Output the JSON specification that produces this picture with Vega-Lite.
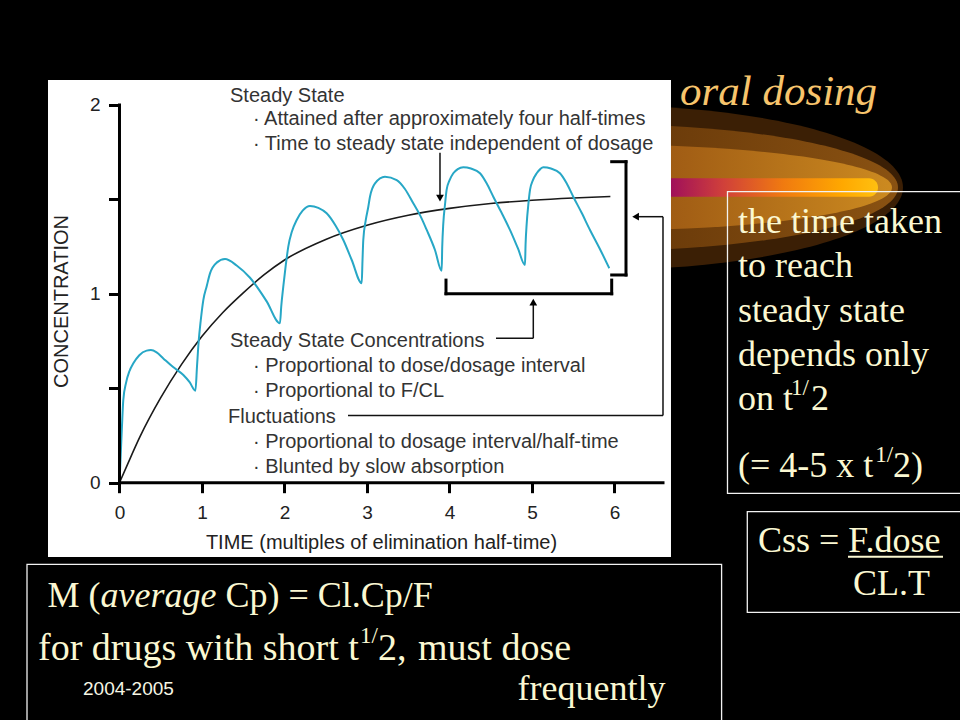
{
  "$schema": "https://vega.github.io/schema/vega-lite/v6.json",
  "width": 960,
  "height": 720,
  "autosize": {"type": "none"},
  "padding": 0,
  "background": "#000000",
  "config": {"view": {"stroke": null}, "font": "Liberation Sans"},
  "resolve": {"axis": {"x": "independent", "y": "independent"}},
  "datasets": {
    "ellipse": [{"t": 5.8242, "c": 1.5627}],
    "stripe": [{"t": 6.3091, "t2": 9.1939, "c": 1.6114, "c2": 1.5141}],
    "panel": [{"t": -0.8667, "t2": 6.6848, "c": 2.1318, "c2": -0.3933}],
    "boxes": [
      {"t": 7.3697, "t2": 10.3, "c": 1.5408, "c2": -0.0566},
      {"t": 7.6097, "t2": 10.3, "c": -0.1535, "c2": -0.6861},
      {"t": -1.1212, "t2": 7.2982, "c": -0.432, "c2": -1.3}
    ],
    "conc": [
      {"t": 0, "c": 0}, {"t": 0.015, "c": 0.15}, {"t": 0.03, "c": 0.3}, {"t": 0.046, "c": 0.438}, {"t": 0.08, "c": 0.53}, {"t": 0.12, "c": 0.59}, {"t": 0.168, "c": 0.632}, {"t": 0.24, "c": 0.675}, {"t": 0.329, "c": 0.699}, {"t": 0.38, "c": 0.702}, {"t": 0.45, "c": 0.69}, {"t": 0.531, "c": 0.658}, {"t": 0.65, "c": 0.612}, {"t": 0.774, "c": 0.57}, {"t": 0.85, "c": 0.532}, {"t": 0.92, "c": 0.487},
      {"t": 0.94, "c": 0.62}, {"t": 0.96, "c": 0.75}, {"t": 0.985, "c": 0.86}, {"t": 1.016, "c": 0.967}, {"t": 1.057, "c": 1.04}, {"t": 1.097, "c": 1.108}, {"t": 1.178, "c": 1.165}, {"t": 1.279, "c": 1.184}, {"t": 1.42, "c": 1.15}, {"t": 1.582, "c": 1.085}, {"t": 1.784, "c": 0.96}, {"t": 1.945, "c": 0.844},
      {"t": 1.96, "c": 0.93}, {"t": 1.985, "c": 1.037}, {"t": 2.015, "c": 1.15}, {"t": 2.046, "c": 1.25}, {"t": 2.09, "c": 1.33}, {"t": 2.148, "c": 1.391}, {"t": 2.22, "c": 1.44}, {"t": 2.309, "c": 1.465}, {"t": 2.41, "c": 1.455}, {"t": 2.511, "c": 1.426}, {"t": 2.62, "c": 1.36}, {"t": 2.713, "c": 1.285}, {"t": 2.815, "c": 1.179}, {"t": 2.936, "c": 1.056},
      {"t": 2.945, "c": 1.17}, {"t": 2.955, "c": 1.285}, {"t": 2.985, "c": 1.39}, {"t": 3.016, "c": 1.461}, {"t": 3.036, "c": 1.514}, {"t": 3.097, "c": 1.585}, {"t": 3.218, "c": 1.62}, {"t": 3.36, "c": 1.602}, {"t": 3.46, "c": 1.555}, {"t": 3.561, "c": 1.479}, {"t": 3.65, "c": 1.41}, {"t": 3.724, "c": 1.338}, {"t": 3.824, "c": 1.232}, {"t": 3.905, "c": 1.122},
      {"t": 3.912, "c": 1.25}, {"t": 3.925, "c": 1.373}, {"t": 3.945, "c": 1.47}, {"t": 3.965, "c": 1.55}, {"t": 4.0, "c": 1.6}, {"t": 4.046, "c": 1.638}, {"t": 4.1, "c": 1.66}, {"t": 4.167, "c": 1.67}, {"t": 4.26, "c": 1.663}, {"t": 4.37, "c": 1.638}, {"t": 4.45, "c": 1.585}, {"t": 4.531, "c": 1.514}, {"t": 4.63, "c": 1.43}, {"t": 4.733, "c": 1.338}, {"t": 4.83, "c": 1.24}, {"t": 4.915, "c": 1.152},
      {"t": 4.922, "c": 1.26}, {"t": 4.936, "c": 1.373}, {"t": 4.955, "c": 1.47}, {"t": 4.976, "c": 1.55}, {"t": 5.01, "c": 1.6}, {"t": 5.057, "c": 1.638}, {"t": 5.1, "c": 1.66}, {"t": 5.137, "c": 1.67}, {"t": 5.23, "c": 1.663}, {"t": 5.339, "c": 1.638}, {"t": 5.42, "c": 1.585}, {"t": 5.5, "c": 1.514}, {"t": 5.6, "c": 1.43}, {"t": 5.703, "c": 1.338}, {"t": 5.82, "c": 1.24}, {"t": 5.937, "c": 1.135}
    ],
    "mean": [
      {"t": 0, "c": 0}, {"t": 0.1, "c": 0.1}, {"t": 0.25, "c": 0.245}, {"t": 0.5, "c": 0.45}, {"t": 0.75, "c": 0.625}, {"t": 1, "c": 0.775}, {"t": 1.25, "c": 0.9}, {"t": 1.5, "c": 1.005}, {"t": 1.75, "c": 1.1}, {"t": 2, "c": 1.179}, {"t": 2.5, "c": 1.288}, {"t": 3, "c": 1.363}, {"t": 3.5, "c": 1.416}, {"t": 4, "c": 1.452}, {"t": 4.5, "c": 1.478}, {"t": 5, "c": 1.495}, {"t": 5.5, "c": 1.507}, {"t": 5.95, "c": 1.515}
    ],
    "thick": [
      {"t": 6.1394, "t2": 6.1394, "c": 1.6993, "c2": 1.0996},
      {"t": 5.9661, "t2": 6.1394, "c": 1.6993, "c2": 1.6993},
      {"t": 5.9661, "t2": 6.1394, "c": 1.0996, "c2": 1.0996},
      {"t": 3.9576, "t2": 5.9661, "c": 1.0004, "c2": 1.0004},
      {"t": 3.9576, "t2": 3.9576, "c": 1.0004, "c2": 1.0725},
      {"t": 5.9661, "t2": 5.9661, "c": 1.0004, "c2": 1.0725},
      {"t": 0, "t2": 0, "c": 0, "c2": 2},
      {"t": 0, "t2": 6.5879, "c": 0, "c2": 0}
    ],
    "thin": [
      {"t": 2.7697, "t2": 6.5879, "c": 0.3557, "c2": 0.3557},
      {"t": 6.5879, "t2": 6.5879, "c": 0.3557, "c2": 1.4082},
      {"t": 6.2606, "t2": 6.5879, "c": 1.4082, "c2": 1.4082},
      {"t": 4.5636, "t2": 5.0158, "c": 0.7644, "c2": 0.7644},
      {"t": 5.0158, "t2": 5.0158, "c": 0.7644, "c2": 0.9577},
      {"t": 3.8848, "t2": 3.8848, "c": 1.7469, "c2": 1.5077}
    ],
    "arrows": [
      {"t": 3.8848, "c": 1.5066, "dir": "down"},
      {"t": 6.2558, "c": 1.4082, "dir": "left"},
      {"t": 5.0158, "c": 0.9555, "dir": "up"}
    ],
    "notes": [
      {"t": 1.3394, "c": 2.0169, "label": "Steady State"},
      {"t": 1.6182, "c": 1.8936, "label": "· Attained after approximately four half-times"},
      {"t": 1.6182, "c": 1.7613, "label": "· Time to steady state independent of dosage"},
      {"t": 1.3394, "c": 0.72, "label": "Steady State Concentrations"},
      {"t": 1.6182, "c": 0.5876, "label": "· Proportional to dose/dosage interval"},
      {"t": 1.6182, "c": 0.4553, "label": "· Proportional to F/CL"},
      {"t": 1.3152, "c": 0.3145, "label": "Fluctuations"},
      {"t": 1.6182, "c": 0.1821, "label": "· Proportional to dosage interval/half-time"},
      {"t": 1.6182, "c": 0.0498, "label": "· Blunted by slow absorption"}
    ],
    "serif36": [
      {"t": 7.497, "c": 1.3219, "label": "the time taken"},
      {"t": 7.497, "c": 1.0863, "label": "to reach"},
      {"t": 7.497, "c": 0.8507, "label": "steady state"},
      {"t": 7.497, "c": 0.6178, "label": "depends only"},
      {"t": 7.497, "c": 0.3849, "label": "on t"},
      {"t": 8.3818, "c": 0.3849, "label": "2"},
      {"t": 7.497, "c": 0.0318, "label": "(= 4-5 x t"},
      {"t": 9.3758, "c": 0.0318, "label": "2)"},
      {"t": 7.7394, "c": -0.3653, "label": "Css = F.dose"},
      {"t": 8.8909, "c": -0.5945, "label": "CL.T"},
      {"t": -0.8727, "c": -0.6564, "label": "M ("},
      {"t": 1.2848, "c": -0.6564, "label": "Cp) =  Cl.Cp/F"},
      {"t": 4.8242, "c": -1.1503, "label": "frequently"}
    ],
    "serif38": [
      {"t": -0.9879, "c": -0.9386, "label": "for drugs with short t"},
      {"t": 3.1333, "c": -0.9386, "label": "2,"},
      {"t": 3.6182, "c": -0.9386, "label": "must dose"}
    ],
    "italic": [{"t": -0.2303, "c": -0.6564, "label": "average"}],
    "sup": [
      {"t": 8.1394, "c": 0.4643, "label": "1/"},
      {"t": 9.16, "c": 0.1112, "label": "1/"},
      {"t": 2.9152, "c": -0.8486, "label": "1/"}
    ],
    "heading": [{"t": 6.7939, "c": 1.9995, "label": "oral dosing"}],
    "small": [{"t": -0.4424, "c": -1.1239, "label": "2004-2005"}],
    "underline": [{"t": 8.8303, "t2": 9.9818, "c": -0.3917, "c2": -0.3917}]
  },
  "layer": [
    {
      "data": {"name": "ellipse"},
      "mark": {"type": "point", "shape": "M-1,0C-1,-0.1498,-0.5523,-0.2713,0,-0.2713C0.5523,-0.2713,1,-0.1498,1,0C1,0.1498,0.5523,0.2713,0,0.2713C-0.5523,0.2713,-1,0.1498,-1,0Z", "size": 367236, "filled": true, "opacity": 1, "strokeWidth": 0, "fill": "#3b1f05"},
      "encoding": {
        "x": {"field": "t", "type": "quantitative", "scale": {"domain": [-1.4485, 10.188], "nice": false, "zero": false}, "axis": null},
        "y": {"field": "c", "type": "quantitative", "scale": {"domain": [-1.2562, 2.5553], "nice": false, "zero": false}, "axis": null}
      }
    },
    {
      "data": {"name": "ellipse"},
      "mark": {"type": "point", "shape": "M-1,0C-1,-0.1173,-0.5523,-0.2124,0,-0.2124C0.5523,-0.2124,1,-0.1173,1,0C1,0.1173,0.5523,0.2124,0,0.2124C-0.5523,0.2124,-1,0.1173,-1,0Z", "size": 355216, "filled": true, "opacity": 1, "strokeWidth": 0,
        "fill": {"gradient": "linear", "x1": 0, "y1": 0, "x2": 1, "y2": 0, "stops": [{"offset": 0, "color": "#4a2604"}, {"offset": 0.6, "color": "#6b3b0a"}, {"offset": 1, "color": "#8a5212"}]}},
      "encoding": {
        "x": {"field": "t", "type": "quantitative", "scale": {"domain": [-1.4485, 10.188], "nice": false, "zero": false}, "axis": null},
        "y": {"field": "c", "type": "quantitative", "scale": {"domain": [-1.2562, 2.5553], "nice": false, "zero": false}, "axis": null}
      }
    },
    {
      "data": {"name": "ellipse"},
      "mark": {"type": "point", "shape": "M-1,0C-1,-0.0811,-0.5523,-0.1469,0,-0.1469C0.5523,-0.1469,1,-0.0811,1,0C1,0.0811,0.5523,0.1469,0,0.1469C-0.5523,0.1469,-1,0.0811,-1,0Z", "size": 341056, "filled": true, "opacity": 1, "strokeWidth": 0,
        "fill": {"gradient": "linear", "x1": 0, "y1": 0, "x2": 1, "y2": 0, "stops": [{"offset": 0, "color": "#6a3a08"}, {"offset": 0.62, "color": "#a05c14"}, {"offset": 1, "color": "#cc8a20"}]}},
      "encoding": {
        "x": {"field": "t", "type": "quantitative", "scale": {"domain": [-1.4485, 10.188], "nice": false, "zero": false}, "axis": null},
        "y": {"field": "c", "type": "quantitative", "scale": {"domain": [-1.2562, 2.5553], "nice": false, "zero": false}, "axis": null}
      }
    },
    {
      "data": {"name": "stripe"},
      "mark": {"type": "rect", "cornerRadius": 9,
        "fill": {"gradient": "linear", "x1": 0, "y1": 0, "x2": 1, "y2": 0, "stops": [{"offset": 0, "color": "#900060"}, {"offset": 0.13, "color": "#a0105a"}, {"offset": 0.35, "color": "#d0403a"}, {"offset": 0.6, "color": "#f07a10"}, {"offset": 0.85, "color": "#ffa800"}, {"offset": 1, "color": "#ffc010"}]}},
      "encoding": {
        "x": {"field": "t", "type": "quantitative", "scale": {"domain": [-1.4485, 10.188], "nice": false, "zero": false}, "axis": null},
        "x2": {"field": "t2"},
        "y": {"field": "c", "type": "quantitative", "scale": {"domain": [-1.2562, 2.5553], "nice": false, "zero": false}, "axis": null},
        "y2": {"field": "c2"}
      }
    },
    {
      "data": {"name": "panel"},
      "mark": {"type": "rect", "fill": "#ffffff"},
      "encoding": {
        "x": {"field": "t", "type": "quantitative", "scale": {"domain": [-1.4485, 10.188], "nice": false, "zero": false}, "axis": null},
        "x2": {"field": "t2"},
        "y": {"field": "c", "type": "quantitative", "scale": {"domain": [-1.2562, 2.5553], "nice": false, "zero": false}, "axis": null},
        "y2": {"field": "c2"}
      }
    },
    {
      "data": {"name": "mean"},
      "mark": {"type": "line", "color": "#1a1a1a", "strokeWidth": 1.6, "interpolate": "monotone"},
      "encoding": {
        "x": {"field": "t", "type": "quantitative", "scale": {"domain": [-1.4485, 10.188], "nice": false, "zero": false}, "axis": null},
        "y": {"field": "c", "type": "quantitative", "scale": {"domain": [-1.2562, 2.5553], "nice": false, "zero": false}, "axis": null}
      }
    },
    {
      "data": {"name": "conc"},
      "mark": {"type": "line", "color": "#27a7c6", "strokeWidth": 2, "interpolate": "monotone"},
      "encoding": {
        "x": {"field": "t", "type": "quantitative", "scale": {"domain": [-1.4485, 10.188], "nice": false, "zero": false},
          "axis": {"orient": "bottom", "offset": -237.3, "values": [0, 1, 2, 3, 4, 5, 6], "domain": false, "grid": false, "tickSize": 10, "tickWidth": 3, "tickColor": "#000000", "labelFont": "Liberation Sans", "labelFontSize": 19, "labelColor": "#222222", "labelPadding": 11, "labelFlush": false, "labelOverlap": false, "title": "TIME (multiples of elimination half-time)", "titleFont": "Liberation Sans", "titleFontSize": 20, "titleFontWeight": "normal", "titleColor": "#222222", "titleX": 381, "titleY": 65.6, "titleAlign": "center", "titleBaseline": "alphabetic", "zindex": 2}},
        "y": {"field": "c", "type": "quantitative", "scale": {"domain": [-1.2562, 2.5553], "nice": false, "zero": false},
          "axis": {"orient": "left", "offset": -119.5, "values": [0, 0.5, 1, 1.5, 2], "labelExpr": "datum.value == 0 || datum.value == 1 || datum.value == 2 ? datum.label : ''", "domain": false, "grid": false, "tickSize": 11, "tickWidth": 3, "tickColor": "#000000", "labelFont": "Liberation Sans", "labelFontSize": 19, "labelColor": "#222222", "labelPadding": 8.5, "labelFlush": false, "labelOverlap": false, "title": "CONCENTRATION", "titleFont": "Liberation Sans", "titleFontSize": 20, "titleFontWeight": "normal", "titleColor": "#222222", "titleAngle": 270, "titleX": -57.8, "titleY": 301, "titleAlign": "center", "titleBaseline": "middle", "zindex": 2}}
      }
    },
    {
      "data": {"name": "thick"},
      "mark": {"type": "rule", "color": "#000000", "strokeWidth": 3, "strokeCap": "square"},
      "encoding": {
        "x": {"field": "t", "type": "quantitative", "scale": {"domain": [-1.4485, 10.188], "nice": false, "zero": false}, "axis": null},
        "x2": {"field": "t2"},
        "y": {"field": "c", "type": "quantitative", "scale": {"domain": [-1.2562, 2.5553], "nice": false, "zero": false}, "axis": null},
        "y2": {"field": "c2"}
      }
    },
    {
      "data": {"name": "thin"},
      "mark": {"type": "rule", "color": "#111111", "strokeWidth": 1.5},
      "encoding": {
        "x": {"field": "t", "type": "quantitative", "scale": {"domain": [-1.4485, 10.188], "nice": false, "zero": false}, "axis": null},
        "x2": {"field": "t2"},
        "y": {"field": "c", "type": "quantitative", "scale": {"domain": [-1.2562, 2.5553], "nice": false, "zero": false}, "axis": null},
        "y2": {"field": "c2"}
      }
    },
    {
      "data": {"name": "arrows"},
      "mark": {"type": "point", "filled": true, "opacity": 1, "size": 60, "color": "#000000"},
      "encoding": {
        "x": {"field": "t", "type": "quantitative", "scale": {"domain": [-1.4485, 10.188], "nice": false, "zero": false}, "axis": null},
        "y": {"field": "c", "type": "quantitative", "scale": {"domain": [-1.2562, 2.5553], "nice": false, "zero": false}, "axis": null},
        "shape": {"field": "dir", "type": "nominal", "scale": {"domain": ["down", "left", "up"], "range": ["triangle-down", "triangle-left", "triangle-up"]}, "legend": null}
      }
    },
    {
      "data": {"name": "notes"},
      "mark": {"type": "text", "font": "Liberation Sans", "fontSize": 20, "color": "#333333", "align": "left", "baseline": "alphabetic"},
      "encoding": {
        "x": {"field": "t", "type": "quantitative", "scale": {"domain": [-1.4485, 10.188], "nice": false, "zero": false}, "axis": null},
        "y": {"field": "c", "type": "quantitative", "scale": {"domain": [-1.2562, 2.5553], "nice": false, "zero": false}, "axis": null},
        "text": {"field": "label"}
      }
    },
    {
      "data": {"name": "boxes"},
      "mark": {"type": "rect", "filled": false, "stroke": "#f2f2f2", "strokeWidth": 1.3},
      "encoding": {
        "x": {"field": "t", "type": "quantitative", "scale": {"domain": [-1.4485, 10.188], "nice": false, "zero": false}, "axis": null},
        "x2": {"field": "t2"},
        "y": {"field": "c", "type": "quantitative", "scale": {"domain": [-1.2562, 2.5553], "nice": false, "zero": false}, "axis": null},
        "y2": {"field": "c2"}
      }
    },
    {
      "data": {"name": "heading"},
      "mark": {"type": "text", "font": "Liberation Serif", "fontSize": 43, "fontStyle": "italic", "color": "#f7c46c", "align": "left", "baseline": "alphabetic"},
      "encoding": {
        "x": {"field": "t", "type": "quantitative", "scale": {"domain": [-1.4485, 10.188], "nice": false, "zero": false}, "axis": null},
        "y": {"field": "c", "type": "quantitative", "scale": {"domain": [-1.2562, 2.5553], "nice": false, "zero": false}, "axis": null},
        "text": {"field": "label"}
      }
    },
    {
      "data": {"name": "serif36"},
      "mark": {"type": "text", "font": "Liberation Serif", "fontSize": 36, "color": "#fbf8d2", "align": "left", "baseline": "alphabetic"},
      "encoding": {
        "x": {"field": "t", "type": "quantitative", "scale": {"domain": [-1.4485, 10.188], "nice": false, "zero": false}, "axis": null},
        "y": {"field": "c", "type": "quantitative", "scale": {"domain": [-1.2562, 2.5553], "nice": false, "zero": false}, "axis": null},
        "text": {"field": "label"}
      }
    },
    {
      "data": {"name": "serif38"},
      "mark": {"type": "text", "font": "Liberation Serif", "fontSize": 38, "color": "#fbf8d2", "align": "left", "baseline": "alphabetic"},
      "encoding": {
        "x": {"field": "t", "type": "quantitative", "scale": {"domain": [-1.4485, 10.188], "nice": false, "zero": false}, "axis": null},
        "y": {"field": "c", "type": "quantitative", "scale": {"domain": [-1.2562, 2.5553], "nice": false, "zero": false}, "axis": null},
        "text": {"field": "label"}
      }
    },
    {
      "data": {"name": "italic"},
      "mark": {"type": "text", "font": "Liberation Serif", "fontSize": 36, "fontStyle": "italic", "color": "#fbf8d2", "align": "left", "baseline": "alphabetic"},
      "encoding": {
        "x": {"field": "t", "type": "quantitative", "scale": {"domain": [-1.4485, 10.188], "nice": false, "zero": false}, "axis": null},
        "y": {"field": "c", "type": "quantitative", "scale": {"domain": [-1.2562, 2.5553], "nice": false, "zero": false}, "axis": null},
        "text": {"field": "label"}
      }
    },
    {
      "data": {"name": "sup"},
      "mark": {"type": "text", "font": "Liberation Serif", "fontSize": 23, "color": "#fbf8d2", "align": "left", "baseline": "alphabetic"},
      "encoding": {
        "x": {"field": "t", "type": "quantitative", "scale": {"domain": [-1.4485, 10.188], "nice": false, "zero": false}, "axis": null},
        "y": {"field": "c", "type": "quantitative", "scale": {"domain": [-1.2562, 2.5553], "nice": false, "zero": false}, "axis": null},
        "text": {"field": "label"}
      }
    },
    {
      "data": {"name": "small"},
      "mark": {"type": "text", "font": "Liberation Sans", "fontSize": 19, "color": "#f6f6e4", "align": "left", "baseline": "alphabetic"},
      "encoding": {
        "x": {"field": "t", "type": "quantitative", "scale": {"domain": [-1.4485, 10.188], "nice": false, "zero": false}, "axis": null},
        "y": {"field": "c", "type": "quantitative", "scale": {"domain": [-1.2562, 2.5553], "nice": false, "zero": false}, "axis": null},
        "text": {"field": "label"}
      }
    },
    {
      "data": {"name": "underline"},
      "mark": {"type": "rule", "color": "#fbf8d2", "strokeWidth": 2},
      "encoding": {
        "x": {"field": "t", "type": "quantitative", "scale": {"domain": [-1.4485, 10.188], "nice": false, "zero": false}, "axis": null},
        "x2": {"field": "t2"},
        "y": {"field": "c", "type": "quantitative", "scale": {"domain": [-1.2562, 2.5553], "nice": false, "zero": false}, "axis": null},
        "y2": {"field": "c2"}
      }
    }
  ]
}
